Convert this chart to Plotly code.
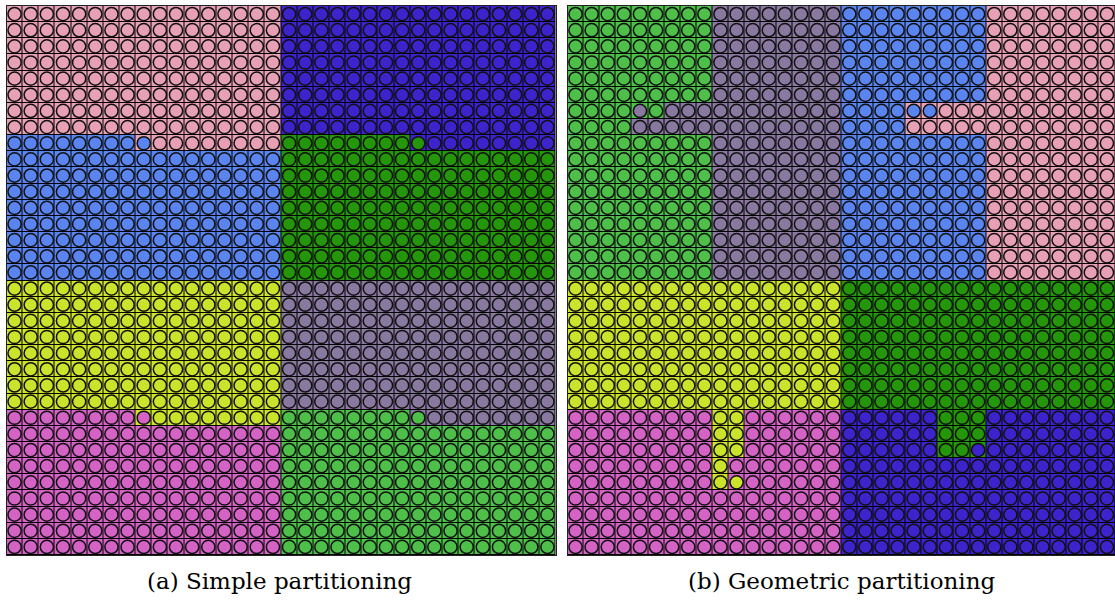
import plotly.graph_objects as go

# colour of each partition, by one-letter code
COLORS = {
    "P": "#E8A0B5",  # pink
    "B": "#5A85F0",  # light blue
    "D": "#3C23CC",  # dark blue
    "G": "#24960A",  # dark green
    "Y": "#CCE32C",  # yellow
    "V": "#8978A0",  # grey violet
    "M": "#D563C6",  # magenta
    "L": "#4EC04A",  # light green
}
CODES = list(COLORS)

# partition maps, 34x34, top row first.
# each entry: (how many rows, run-length row "17P 17D")
# squares = elements, circles = nodes
SIMPLE_SQUARES = [
    (8, "17P 17D"),
    (1, "8B 9P 8G 9D"),
    (8, "17B 17G"),
    (8, "17Y 17V"),
    (1, "8M 9Y 8L 9V"),
    (8, "17M 17L"),
]
SIMPLE_CIRCLES = [
    (8, "17P 17D"),
    (1, "9B 8P 9G 8D"),
    (8, "17B 17G"),
    (8, "17Y 17V"),
    (1, "9M 8Y 9L 8V"),
    (8, "17M 17L"),
]
GEOM_SQUARES = [
    (6, "9L 8V 9B 8P"),
    (1, "6L 11V 4B 13P"),
    (1, "4L 13V 4B 13P"),
    (9, "9L 8V 9B 8P"),
    (8, "17Y 17G"),
    (3, "9M 2Y 6M 6D 3G 8D"),
    (2, "9M 1Y 7M 17D"),
    (4, "17M 17D"),
]
GEOM_CIRCLES = [
    (6, "9L 8V 9B 8P"),
    (1, "4L 1V 1L 11V 6B 11P"),
    (1, "4L 13V 4B 13P"),
    (9, "9L 8V 9B 8P"),
    (8, "17Y 17G"),
    (2, "9M 2Y 6M 6D 3G 8D"),
    (1, "9M 2Y 6M 6D 2G 9D"),
    (1, "9M 1Y 7M 17D"),
    (1, "9M 2Y 6M 17D"),
    (4, "17M 17D"),
]

CAPTIONS = ["(a) Simple partitioning", "(b) Geometric partitioning"]


def expand(rows):
    grid = []
    for n, spec in rows:
        row = ""
        for run in spec.split():
            row += run[-1] * int(run[:-1])
        grid += [row] * n
    return grid


W, H = 1115, 605
colorscale = [[i / (len(CODES) - 1), COLORS[k]] for i, k in enumerate(CODES)]

fig = go.Figure()

panels = [
    (SIMPLE_SQUARES, SIMPLE_CIRCLES, "x", "y"),
    (GEOM_SQUARES, GEOM_CIRCLES, "x2", "y2"),
]

for squares, circles, xa, ya in panels:
    sq = expand(squares)
    ci = expand(circles)
    n = len(sq)
    fig.add_trace(go.Heatmap(
        z=[[CODES.index(ch) for ch in row] for row in sq],
        x=list(range(n)), y=list(range(n)),
        colorscale=colorscale, zmin=0, zmax=len(CODES) - 1,
        showscale=False, xgap=1, ygap=1, hoverinfo="skip",
        xaxis=xa, yaxis=ya))
    xs, ys, cs = [], [], []
    for r, row in enumerate(ci):
        for c, ch in enumerate(row):
            xs.append(c)
            ys.append(r)
            cs.append(COLORS[ch])
    fig.add_trace(go.Scatter(
        x=xs, y=ys, mode="markers", hoverinfo="skip", showlegend=False,
        marker=dict(size=13.2, color=cs, line=dict(color="#111111", width=1.5)),
        xaxis=xa, yaxis=ya))

axis_common = dict(showgrid=False, zeroline=False, showticklabels=False, ticks="",
                   showline=True, linecolor="#222222", linewidth=1, mirror=True)
y_dom = [1 - 555 / H, 1 - 6 / H]
fig.update_layout(
    width=W, height=H,
    margin=dict(l=0, r=0, t=0, b=0),
    paper_bgcolor="white", plot_bgcolor="black",
    showlegend=False,
    xaxis=dict(domain=[6.5 / W, 555.5 / W], range=[-0.5, 33.5], **axis_common),
    yaxis=dict(domain=y_dom, range=[33.5, -0.5], **axis_common),
    xaxis2=dict(domain=[567.5 / W, 1.0], range=[-0.5, 33.5], anchor="y2", **axis_common),
    yaxis2=dict(domain=y_dom, range=[33.5, -0.5], anchor="x2", **axis_common),
)

for text, cx in zip(CAPTIONS, [279, 841]):
    fig.add_annotation(text=text, x=cx / W, y=1 - 581 / H, xref="paper", yref="paper",
                       showarrow=False, xanchor="center", yanchor="middle",
                       font=dict(family="DejaVu Serif", size=23, color="black"))

# page body has a default margin; drop it so the figure sits at the window's corner
fig.write_html("out.html", config={"displayModeBar": False},
               post_script="document.body.style.margin='0';")
